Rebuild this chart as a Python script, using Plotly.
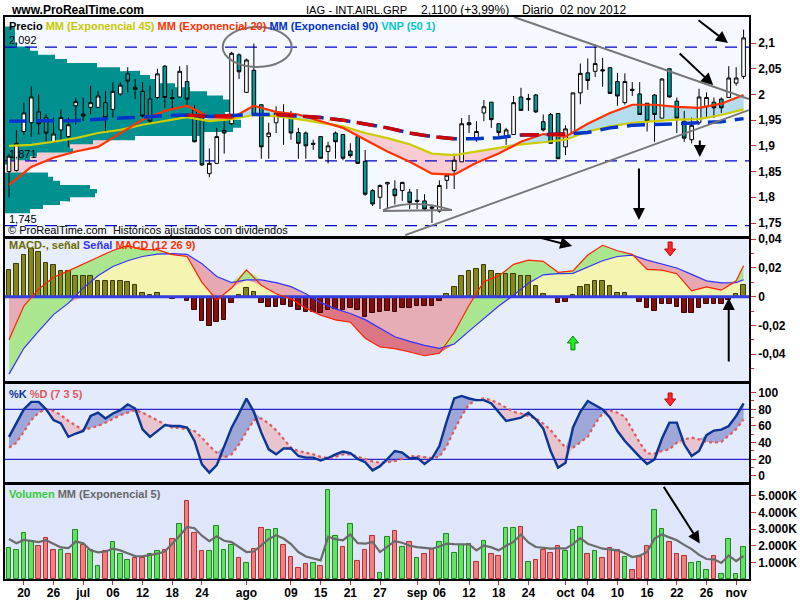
import numpy as np
import plotly.graph_objects as go
from plotly.subplots import make_subplots

FONT = "Liberation Sans, Arial, sans-serif"

# ---------------------------------------------------------------- data
# trading days 18 jun 2012 .. 02 nov 2012, drawn as index 0..99
days = list(range(100))

open_ = [1.850, 1.852, 1.928, 1.945, 1.966, 1.955, 1.907, 1.931, 1.918, 1.978,
         1.962, 1.975, 1.975, 1.984, 1.971, 2.001, 2.040, 2.014, 2.006, 1.991,
         1.994, 2.055, 1.994, 1.995, 2.025, 1.970, 1.955, 1.846, 1.866, 1.930,
         1.943, 2.077, 2.004, 2.047, 1.980, 1.918, 1.945, 1.964, 1.958, 1.926,
         1.925, 1.905, 1.918, 1.889, 1.925, 1.922, 1.890, 1.918, 1.870, 1.813,
         1.800, 1.826, 1.816, 1.813, 1.810, 1.794, 1.793, 1.781, 1.773, 1.833,
         1.852, 1.869, 1.945, 1.915, 1.964, 1.985, 1.943, 1.918, 1.922, 1.995,
         1.990, 1.999, 1.947, 1.961, 1.963, 1.898, 1.925, 2.003, 2.042, 2.045,
         2.048, 2.052, 2.025, 1.984, 2.010, 2.001, 1.983, 1.999, 1.954, 2.050,
         1.987, 1.948, 1.912, 1.945, 1.976, 1.985, 1.991, 1.994, 2.022, 2.035]
high = [1.885, 1.931, 1.984, 2.016, 2.000, 1.961, 1.955, 1.971, 1.955, 1.994,
        1.994, 2.017, 2.007, 2.007, 2.024, 2.024, 2.053, 2.030, 2.024, 2.017,
        2.050, 2.057, 2.010, 2.055, 2.057, 1.980, 1.962, 1.895, 1.935, 1.948,
        2.083, 2.080, 2.070, 2.099, 1.980, 1.945, 1.977, 1.981, 1.968, 1.935,
        1.928, 1.912, 1.918, 1.908, 1.928, 1.922, 1.905, 1.918, 1.892, 1.816,
        1.825, 1.830, 1.833, 1.830, 1.816, 1.816, 1.806, 1.783, 1.833, 1.846,
        1.885, 1.954, 1.960, 1.948, 1.989, 1.985, 1.943, 1.935, 1.997, 2.013,
        2.001, 2.001, 1.961, 1.964, 1.963, 1.940, 2.003, 2.060, 2.070, 2.097,
        2.071, 2.053, 2.042, 2.041, 2.024, 2.024, 1.983, 2.001, 2.032, 2.050,
        1.994, 1.968, 1.955, 2.011, 2.004, 1.994, 1.994, 2.055, 2.053, 2.126]
low = [1.800, 1.850, 1.921, 1.918, 1.922, 1.909, 1.905, 1.912, 1.898, 1.941,
       1.948, 1.961, 1.974, 1.928, 1.955, 1.997, 2.004, 1.991, 1.955, 1.945,
       1.991, 1.974, 1.971, 1.994, 1.978, 1.907, 1.861, 1.839, 1.865, 1.885,
       1.940, 2.030, 2.004, 1.961, 1.875, 1.875, 1.925, 1.902, 1.912, 1.875,
       1.875, 1.892, 1.875, 1.866, 1.875, 1.872, 1.877, 1.865, 1.803, 1.783,
       1.777, 1.777, 1.786, 1.793, 1.777, 1.777, 1.773, 1.750, 1.770, 1.816,
       1.816, 1.869, 1.925, 1.908, 1.948, 1.935, 1.918, 1.902, 1.922, 1.969,
       1.968, 1.964, 1.928, 1.905, 1.875, 1.882, 1.925, 1.981, 2.009, 2.034,
       2.015, 2.001, 1.978, 1.980, 1.997, 1.961, 1.928, 1.908, 1.954, 1.994,
       1.925, 1.908, 1.905, 1.941, 1.954, 1.954, 1.964, 1.994, 2.017, 2.030]
close = [1.880, 1.905, 1.964, 1.995, 1.943, 1.925, 1.923, 1.955, 1.941, 1.986,
         1.958, 1.984, 1.997, 1.955, 2.006, 2.018, 2.026, 2.010, 1.958, 1.948,
         2.040, 1.994, 1.992, 2.045, 1.991, 1.908, 1.863, 1.866, 1.918, 1.925,
         2.080, 2.044, 2.067, 1.961, 1.898, 1.925, 1.964, 1.955, 1.925, 1.905,
         1.900, 1.903, 1.876, 1.900, 1.908, 1.876, 1.881, 1.866, 1.806, 1.787,
         1.823, 1.829, 1.803, 1.829, 1.790, 1.792, 1.777, 1.779, 1.823, 1.843,
         1.872, 1.943, 1.941, 1.928, 1.976, 1.951, 1.926, 1.931, 1.984, 1.969,
         1.992, 1.966, 1.931, 1.905, 1.875, 1.933, 2.003, 2.041, 2.027, 2.060,
         2.046, 2.002, 1.997, 2.025, 2.008, 1.961, 1.948, 1.961, 2.030, 1.995,
         1.954, 1.915, 1.940, 1.995, 1.994, 1.974, 1.974, 2.032, 2.032, 2.110]

# moving averages read every third day
ma_days = [0, 3, 6, 9, 12, 15, 18, 21, 24, 27, 30, 33, 36, 39, 42, 45, 48,
           51, 54, 57, 60, 63, 66, 69, 72, 75, 78, 81, 84, 87, 90, 93, 96, 99]
ema20 = [1.824, 1.859, 1.877, 1.889, 1.898, 1.925, 1.951, 1.968, 1.978, 1.956,
         1.954, 1.978, 1.966, 1.961, 1.948, 1.935, 1.912, 1.889, 1.869, 1.846,
         1.844, 1.867, 1.885, 1.908, 1.923, 1.918, 1.943, 1.964, 1.980, 1.980,
         1.976, 1.974, 1.982, 1.999]
ema45 = [1.900, 1.902, 1.908, 1.915, 1.925, 1.931, 1.941, 1.949, 1.956, 1.948,
         1.952, 1.960, 1.958, 1.952, 1.945, 1.938, 1.925, 1.915, 1.903, 1.885,
         1.882, 1.889, 1.897, 1.903, 1.907, 1.912, 1.928, 1.938, 1.945, 1.948,
         1.951, 1.952, 1.960, 1.971]
ema90 = [1.948, 1.949, 1.949, 1.949, 1.952, 1.954, 1.956, 1.959, 1.960, 1.957,
         1.959, 1.961, 1.961, 1.958, 1.955, 1.950, 1.943, 1.935, 1.925, 1.918,
         1.914, 1.914, 1.916, 1.921, 1.922, 1.923, 1.926, 1.935, 1.940, 1.941,
         1.943, 1.945, 1.947, 1.953]
ema90_falling = [(24, 30), (36, 60), (69, 75)]

# volume-at-price profile (VNP 50 1)
profile_price = [2.128, 2.121, 2.113, 2.105, 2.097, 2.089, 2.081, 2.073, 2.065, 2.057,
                 2.049, 2.042, 2.034, 2.026, 2.018, 2.010, 2.002, 1.994, 1.986, 1.978,
                 1.970, 1.962, 1.955, 1.947, 1.939, 1.931, 1.923, 1.915, 1.907, 1.899,
                 1.891, 1.883, 1.876, 1.868, 1.860, 1.852, 1.844, 1.836, 1.828, 1.820,
                 1.812, 1.804, 1.796, 1.789, 1.781, 1.773]
profile_vol = [10, 10, 10, 10, 12, 25, 33, 50, 62, 92, 115, 135, 145, 155, 170,
               185, 202, 218, 226, 228, 225, 220, 195, 236, 236, 228, 195, 130, 88, 65,
               68, 32, 25, 5, 0, 0, 43, 48, 55, 85, 92, 90, 65, 55, 38, 25]

levels = [2.092, 1.871, 1.745]
level_text = ["2,092", "1,871", "1,745"]

# MACD (12 26 9)
macd_hist = [0.0187, 0.0229, 0.0293, 0.0335, 0.0311, 0.0234, 0.0222, 0.018, 0.018, 0.0147,
             0.0147, 0.0145, 0.011, 0.011, 0.011, 0.011, 0.0105, 0.0082, 0.0023, 0.0012,
             0.0023, 0.0, -0.0019, 0.0, -0.0028, -0.0094, -0.0168, -0.0204, -0.018, -0.0164,
             -0.0042, 0.0012, 0.0059, 0.0035, -0.0047, -0.0075, -0.007, -0.0059, -0.007, -0.0094,
             -0.011, -0.011, -0.0117, -0.0094, -0.0087, -0.0094, -0.0082, -0.0094, -0.0145, -0.0117,
             -0.0105, -0.01, -0.0105, -0.0082, -0.0082, -0.0066, -0.0066, -0.0066, -0.0028, 0.0016,
             0.0066, 0.0145, 0.018, 0.0192, 0.0222, 0.018, 0.0157, 0.0157, 0.0157, 0.0147,
             0.0147, 0.0075, 0.0016, 0.0, -0.0042, -0.0035, 0.0009, 0.0066, 0.0082, 0.011,
             0.011, 0.0075, 0.0023, 0.0023, 0.0, -0.0035, -0.0082, -0.0098, -0.0051, -0.0051,
             -0.0075, -0.0117, -0.0117, -0.0082, -0.0051, -0.0051, -0.0051, -0.0023, 0.0016, 0.008]
sig_days = list(range(0, 100, 2)) + [99]
macd_line = [-0.030, -0.0065, 0.0052, 0.0135, 0.018, 0.0225, 0.0275, 0.0322, 0.0355, 0.0328,
             0.0328, 0.0293, 0.028, 0.010, -0.0023, 0.006, 0.0187, 0.008, 0.002, -0.0015,
             -0.008, -0.013, -0.0162, -0.0178, -0.029, -0.0351, -0.0362, -0.0386, -0.0412, -0.0395,
             -0.025, -0.006, 0.0105, 0.0145, 0.0225, 0.0255, 0.0246, 0.017, 0.018, 0.029,
             0.0358, 0.032, 0.0295, 0.019, 0.0185, 0.016, 0.004, 0.0068, 0.0045, 0.011, 0.0215]
signal_line = [-0.054, -0.036, -0.024, -0.0125, -0.0045, 0.0059, 0.0145, 0.021, 0.025, 0.028,
               0.0297, 0.030, 0.0295, 0.023, 0.014, 0.0098, 0.0117, 0.0117, 0.0098, 0.007,
               0.002, -0.004, -0.0085, -0.0117, -0.016, -0.022, -0.028, -0.0312, -0.034, -0.036,
               -0.033, -0.024, -0.015, -0.0065, 0.001, 0.0094, 0.0152, 0.016, 0.0162, 0.0205,
               0.025, 0.028, 0.029, 0.0255, 0.0228, 0.020, 0.0155, 0.011, 0.0096, 0.0098, 0.0118]

# Stochastic %K %D (7 3 5)
stoch_k = [47, 64, 80, 89, 89, 80, 67, 63, 47, 51, 54, 72, 76, 69, 75, 79, 86, 81, 56, 47,
           54, 61, 60, 60, 58, 42, 14, 4, 13, 36, 58, 75, 93, 77, 52, 32, 26, 33, 33, 24,
           22, 22, 18.5, 21.6, 26, 29.4, 27.5, 20.4, 16.5, 6.7, 11.8, 20.4, 30, 28, 21, 22, 14.5, 21, 36, 66,
           93, 96, 93, 91, 91, 87, 76, 66, 68, 70, 76, 68, 57, 30, 10, 16, 58, 77, 90, 85,
           80, 70, 54, 42, 32, 23, 14.5, 20, 45, 64, 64, 38, 24, 30, 49, 54.5, 55.7, 60, 72, 87]
stoch_d = [34, 40, 53, 67, 76, 80, 78, 73, 66, 60, 55, 57.6, 60, 64, 69, 73, 76, 79, 76, 71,
           66, 62, 58, 57.6, 56, 54, 46, 36, 28, 22, 26, 38, 53, 67, 69, 63, 55, 44, 34, 30,
           28, 26, 23, 21.5, 23, 26, 26, 23, 20, 17.5, 16, 16.5, 18, 21, 23.5, 24, 23, 21.6, 23, 36,
           55, 72, 86, 91, 93, 91, 87, 82, 77, 75, 72, 69, 63, 55, 44, 34, 34, 40, 47, 63,
           75, 78.4, 76, 71, 55, 40, 27, 27, 30, 32, 40, 44, 46, 44, 41, 40, 41, 48, 56, 68]

# volume (millions of shares) and its 5-day EMA
volume = [1.86, 1.72, 2.79, 2.27, 2.0, 2.49, 1.72, 1.72, 1.52, 2.97,
          2.06, 1.76, 0.76, 1.68, 2.25, 1.48, 1.16, 1.24, 1.24, 1.52,
          1.68, 1.72, 2.43, 3.33, 4.67, 2.79, 1.66, 1.66, 3.21, 1.76,
          2.06, 1.28, 0.98, 1.82, 3.09, 2.97, 3.03, 2.06, 1.34, 0.68,
          0.92, 0.98, 0.76, 5.32, 2.6, 1.94, 3.33, 1.1, 1.76, 2.6,
          0.38, 2.55, 2.91, 1.94, 2.23, 1.28, 1.52, 1.82, 2.23, 2.73,
          1.58, 2.02, 2.12, 1.04, 2.31, 1.52, 1.4, 3.09, 3.09, 3.15,
          1.04, 1.16, 1.76, 1.58, 2.0, 1.66, 2.93, 3.15, 1.48, 1.7,
          1.28, 1.88, 1.76, 1.34, 0.56, 1.32, 2.0, 4.17, 3.03, 2.25,
          1.52, 1.4, 0.98, 1.04, 0.56, 1.4, 0.32, 2.43, 0.32, 1.94]
vol_up = ("ggggrrrgrg" "rggrgggrrg" "grrgrrrggg" "grgrrggrrr" "rgrggrgrrr"
          "ggrgrgrrgg" "gggrgrrggr" "grrrrgggrg" "rrrgrrrggr" "rrgggrgggg")
vol_ema5 = [2.4, 2.15, 2.35, 2.3, 2.22, 2.33, 2.1, 1.9, 1.85, 2.25,
            2.15, 1.72, 1.6, 1.65, 1.82, 1.72, 1.55, 1.38, 1.36, 1.42,
            1.52, 1.65, 2.12, 2.6, 3.13, 3.05, 2.6, 2.28, 2.57, 2.3,
            2.22, 1.9, 1.62, 1.65, 2.05, 2.4, 2.63, 2.43, 2.1, 1.62,
            1.35, 1.22, 1.12, 2.53, 2.4, 2.33, 2.67, 2.15, 2.12, 2.23,
            1.62, 1.95, 2.27, 2.18, 2.0, 1.92, 1.85, 1.82, 1.95, 2.12,
            2.1, 2.1, 2.08, 1.72, 2.02, 1.9, 1.72, 2.0, 2.23, 2.67,
            2.2, 1.92, 1.85, 1.82, 1.85, 1.82, 2.1, 2.46, 2.12, 1.98,
            1.82, 1.78, 1.72, 1.55, 1.32, 1.4, 1.62, 2.43, 2.67, 2.5,
            2.33, 2.05, 1.8, 1.45, 1.2, 1.18, 0.96, 1.42, 1.08, 1.38]

tick_days = [2, 6, 10, 14, 18, 22, 26, 32, 38, 42, 46, 50,
             55, 58, 62, 66, 70, 75, 78, 82, 86, 90, 94, 98]
tick_text = ["20", "26", "jul", "06", "12", "18", "24", "ago", "09", "15", "21", "27",
             "sep", "06", "12", "18", "24", "oct", "04", "10", "16", "22", "26", "nov"]

# ---------------------------------------------------------------- figure
X_LO, X_HI = -0.54, 99.73
PX_PER_DAY = 7.42
CLEAR = "rgba(0,0,0,0)"

fig = make_subplots(rows=4, cols=1, shared_xaxes=True, vertical_spacing=0.005)


def line(x, y, color, width=1.0, dash=None, xa="x", ya="y", **kw):
    fig.add_trace(go.Scatter(x=x, y=y, mode="lines", hoverinfo="skip", xaxis=xa, yaxis=ya,
                             line=dict(color=color, width=width, dash=dash), **kw))


# price panel, back layer: zone between EMA20 and EMA45, profile, levels
e20, e45 = np.array(ema20), np.array(ema45)
line(ma_days, e45, CLEAR, 0)
line(ma_days, np.maximum(e20, e45), CLEAR, 0, fill="tonexty", fillcolor="#b3dcef")
line(ma_days, e45, CLEAR, 0)
line(ma_days, np.minimum(e20, e45), CLEAR, 0, fill="tonexty", fillcolor="#f9ccd4")

half = 0.0040
prof_x, prof_y = [X_LO], [profile_price[0] + half]
for p, v in zip(profile_price, profile_vol):
    w = X_LO + v / PX_PER_DAY
    prof_x += [w, w]
    prof_y += [p + half, p - half]
prof_x.append(X_LO)
prof_y.append(profile_price[-1] - half)
line(prof_x, prof_y, CLEAR, 0, fill="toself", fillcolor="#009090")

for lv in levels:
    line([X_LO, X_HI], [lv, lv], "#0000cc", 1.2, dash="12px,8px")

# price panel, front layer (overlay axes x5/y5): candles and averages
fig.add_trace(go.Candlestick(
    x=days, open=open_, high=high, low=low, close=close, whiskerwidth=0,
    xaxis="x5", yaxis="y5",
    increasing=dict(fillcolor="white", line=dict(color="black", width=1)),
    decreasing=dict(fillcolor="#009a9a", line=dict(color="black", width=1)),
    hoverinfo="skip"))
line(ma_days, ema45, "#cccc00", 2.2, xa="x5", ya="y5")
line(ma_days, ema20, "#ff3300", 2.2, xa="x5", ya="y5")
line(ma_days, ema90, "#0033cc", 3.5, dash="18px,9px", xa="x5", ya="y5")
red90 = [v if any(a <= d <= b for a, b in ema90_falling) else None
         for d, v in zip(ma_days, ema90)]
line(ma_days, red90, "#cc0000", 3.5, dash="18px,9px", xa="x5", ya="y5")

# MACD panel, back layer: coloured zones
m, s = np.array(macd_line), np.array(signal_line)
M = dict(xa="x2", ya="y2")
line(sig_days, np.maximum(s, 0), CLEAR, 0, fill="tozeroy", fillcolor="#f5f5b2", **M)
line(sig_days, np.minimum(s, 0), CLEAR, 0, fill="tozeroy", fillcolor="#e6adb6", **M)
line(sig_days, s, CLEAR, 0, **M)
line(sig_days, np.maximum(m, s), CLEAR, 0, fill="tonexty", fillcolor="#a9e68e", **M)
line(sig_days, s, CLEAR, 0, **M)
line(sig_days, np.minimum(m, s), CLEAR, 0, fill="tonexty", fillcolor="#e6a9b1", **M)
line(sig_days, np.minimum(s, 0), CLEAR, 0, **M)
line(sig_days, np.minimum(np.minimum(m, s), 0), CLEAR, 0, fill="tonexty", fillcolor="#dc7584", **M)

# MACD panel, front layer (overlay axes x6/y6)
fig.add_trace(go.Bar(
    x=days, y=macd_hist, width=0.62, hoverinfo="skip", xaxis="x6", yaxis="y6",
    marker=dict(color=["#86861e" if v >= 0 else "#7e1010" for v in macd_hist],
                line=dict(color=["#3c3c00" if v >= 0 else "#3c0000" for v in macd_hist], width=1))))
line([X_LO, X_HI], [0, 0], "#3340dd", 3, xa="x6", ya="y6")
line(sig_days, signal_line, "#3333ff", 1.2, xa="x6", ya="y6")
line(sig_days, macd_line, "#ff2200", 1.2, xa="x6", ya="y6")

# Stochastic panel
k, d = np.array(stoch_k), np.array(stoch_d)
S = dict(xa="x3", ya="y3")
line(days, d, CLEAR, 0, **S)
line(days, np.maximum(k, d), CLEAR, 0, fill="tonexty", fillcolor="#9ea7d8", **S)
line(days, d, CLEAR, 0, **S)
line(days, np.minimum(k, d), CLEAR, 0, fill="tonexty", fillcolor="#e8c4cf", **S)
for lv in (80, 20):
    line([X_LO, X_HI], [lv, lv], "#2a2ad0", 1.2, **S)
line(days, stoch_d, "#e05a5a", 2.2, dash="dot", **S)
line(days, stoch_k, "#0a3595", 2.4, **S)

# Volume panel
fig.add_trace(go.Bar(
    x=days, y=volume, width=0.62, hoverinfo="skip", xaxis="x4", yaxis="y4",
    marker=dict(color=["#66e066" if c == "g" else "#f08080" for c in vol_up],
                line=dict(color=["#1a8a1a" if c == "g" else "#b83030" for c in vol_up], width=1))))
line(days, vol_ema5, "#6b6b6b", 2.2, xa="x4", ya="y4")

# ---------------------------------------------------------------- axes
domains = [(0.6103, 1.0), (0.3523, 0.605), (0.1726, 0.347), (0.0, 0.1673)]
y_ranges = [(1.7247, 2.1506), (-0.0588, 0.0402), (-7.2, 110.4), (0, 5.65)]
y_ticks = [
    ([1.75, 1.8, 1.85, 1.9, 1.95, 2.0, 2.05, 2.1],
     ["1,75", "1,8", "1,85", "1,9", "1,95", "2", "2,05", "2,1"], []),
    ([-0.04, -0.02, 0, 0.02, 0.04], ["-0,04", "-0,02", "0", "0,02", "0,04"],
     [-0.05, -0.03, -0.01, 0.01, 0.03]),
    ([0, 20, 40, 60, 80, 100], ["0", "20", "40", "60", "80", "100"], [10, 30, 50, 70, 90]),
    ([1, 2, 3, 4, 5], ["1.000K", "2.000K", "3.000K", "4.000K", "5.000K"], []),
]
tickfont = dict(family=FONT, size=12, color="black", weight="bold")
for r in range(1, 5):
    vals, text, minor = y_ticks[r - 1]
    fig.update_yaxes(row=r, col=1, domain=list(domains[r - 1]), range=list(y_ranges[r - 1]),
                     side="right", tickvals=vals, ticktext=text, ticks="outside",
                     ticklen=5, tickcolor="#cc3333", tickfont=tickfont,
                     minor=dict(tickvals=minor, ticks="outside", ticklen=3, tickcolor="#cc3333"),
                     showgrid=False, zeroline=False, showline=True, mirror=True,
                     linecolor="black", linewidth=1.5, fixedrange=True)
    fig.update_xaxes(row=r, col=1, range=[X_LO, X_HI], showgrid=False, zeroline=False,
                     showline=True, mirror=True, linecolor="black", linewidth=1.5,
                     rangeslider_visible=False,
                     showticklabels=(r == 4), ticks="outside" if r == 4 else "",
                     tickvals=tick_days, ticktext=tick_text, ticklen=4,
                     tickcolor="#cc3333", tickfont=tickfont)
fig.update_xaxes(row=4, col=1, ticklabelstandoff=-2)

hidden = dict(visible=False, showgrid=False, zeroline=False, fixedrange=True)
fig.update_layout(
    xaxis5=dict(overlaying="x", anchor="y5", range=[X_LO, X_HI],
                rangeslider=dict(visible=False), **hidden),
    yaxis5=dict(overlaying="y", anchor="x5", range=list(y_ranges[0]), **hidden),
    xaxis6=dict(overlaying="x2", anchor="y6", range=[X_LO, X_HI], **hidden),
    yaxis6=dict(overlaying="y2", anchor="x6", range=list(y_ranges[1]), **hidden),
)

# panel backgrounds
for r, col in enumerate(["#f6f8ff", "#e7edfb", "#e3eafb", "#dfe6fb"], start=1):
    sfx = "" if r == 1 else str(r)
    fig.add_shape(type="rect", xref=f"x{sfx} domain", yref=f"y{sfx} domain",
                  x0=0, x1=1, y0=0, y1=1, fillcolor=col, line_width=0, layer="below")

# hand-drawn marks on the price panel
GRAY = "#777777"
fig.add_shape(type="circle", xref="x", yref="y", x0=28.8, x1=38.1, y0=2.0533, y1=2.1311,
              line=dict(color=GRAY, width=2))
fig.add_shape(type="line", xref="x", yref="y", x0=68.06, y0=2.1506, x1=99.7, y1=1.9911,
              line=dict(color=GRAY, width=2))
fig.add_shape(type="line", xref="x", yref="y", x0=53.4, y0=1.7265, x1=99.7, y1=1.9696,
              line=dict(color=GRAY, width=2))
fig.add_shape(type="path", xref="x", yref="y",
              path="M 50.4,1.7751 Q 54.3,1.7985 59.7,1.7751 L 50.4,1.7731",
              line=dict(color=GRAY, width=2))

arrows = [
    # (axis suffix, head x, head y, tail offset in px)
    ("", 96.9, 2.100, -31, -24),
    ("", 94.9, 2.0183, -35, -33),
    ("", 84.9, 1.7556, 0, -53),
    ("", 93.1, 1.8782, 0, -18),
    ("2", 75.9, 0.0353, -35, -9),
    ("2", 97.0, -0.0009, 0, 65),
    ("4", 93.1, 2.14, -37, -58),
]
for sfx, hx, hy, ox, oy in arrows:
    fig.add_annotation(x=hx, y=hy, ax=ox, ay=oy, xref=f"x{sfx}", yref=f"y{sfx}",
                       text="", showarrow=True, arrowhead=2, arrowsize=1.2,
                       arrowwidth=2, arrowcolor="black")

# block arrows (centre day; top, neck and tip in panel units)
block_arrows = [
    ("2", 89.1, 0.0381, 0.0332, 0.0284, "#ff2a2a", "#c00000"),
    ("2", 76.0, -0.0371, -0.0323, -0.0274, "#22ee22", "#008800"),
    ("3", 89.1, 99.6, 92.4, 84.0, "#ff2a2a", "#c00000"),
]
for sfx, cx, y0, yn, yt, fcol, lcol in block_arrows:
    a, b = 0.27, 0.74
    path = (f"M {cx - a},{y0} L {cx + a},{y0} L {cx + a},{yn} L {cx + b},{yn} "
            f"L {cx},{yt} L {cx - b},{yn} L {cx - a},{yn} Z")
    fig.add_shape(type="path", xref=f"x{sfx}", yref=f"y{sfx}", path=path,
                  fillcolor=fcol, line=dict(color=lcol, width=1))


# ---------------------------------------------------------------- texts
def text(t, x, y, xref="paper", yref="paper", size=11, xanchor="left", yanchor="middle", yshift=0):
    fig.add_annotation(text=t, x=x, y=y, xref=xref, yref=yref, showarrow=False,
                       xanchor=xanchor, yanchor=yanchor, yshift=yshift,
                       font=dict(family=FONT, size=size, color="black"))


text("<b>www.ProRealTime.com</b>", 0.006, 1.0125, size=12)
text("IAG - INT.AIRL.GRP", (304 - 5) / 744, 1.0125, size=11.2)
text("2,1100 (+3,99%)", (419 - 5) / 744, 1.0125, size=12)
text("Diario  02 nov 2012", (520 - 5) / 744, 1.0125, size=12)

text("<b>Precio <span style='color:#c8c800'>MM (Exponencial 45)</span> "
     "<span style='color:#ff3300'>MM (Exponencial 20)</span> "
     "<span style='color:#0033cc'>MM (Exponencial 90)</span> "
     "<span style='color:#00c8c8'>VNP (50 1)</span></b>",
     0.003, 0.959, xref="x domain", yref="y domain")
text("© ProRealTime.com  Históricos ajustados con dividendos",
     0.001, 0.028, xref="x domain", yref="y domain", size=11)
for lv, lt in zip(levels, level_text):
    text(lt, 0.003, lv, xref="x domain", yref="y", yanchor="bottom", yshift=-1)

text("<b><span style='color:#6b6b00'>MACD-, señal</span> "
     "<span style='color:#3333ff'>Señal</span> "
     "<span style='color:#ff3300'>MACD (12 26 9)</span></b>",
     0.003, 0.955, xref="x2 domain", yref="y2 domain")
text("<b><span style='color:#0a3595'>%K</span> "
     "<span style='color:#e05a5a'>%D (7 3 5)</span></b>",
     0.003, 0.895, xref="x3 domain", yref="y3 domain")
text("<b><span style='color:#33cc33'>Volumen</span> "
     "<span style='color:#666666'>MM (Exponencial 5)</span></b>",
     0.003, 0.9, xref="x4 domain", yref="y4 domain")

fig.update_layout(
    width=800, height=600, margin=dict(l=5, r=51, t=17, b=21, autoexpand=False),
    paper_bgcolor="white", plot_bgcolor="white", showlegend=False,
    font=dict(family=FONT, size=11, color="black"), bargap=0,
)

# the page body has a default 8px margin; drop it so the 800x600 figure fills the window
fig.write_html("out.html", config={"displayModeBar": False},
               post_script="document.body.style.margin='0px';document.body.style.padding='0px';")
